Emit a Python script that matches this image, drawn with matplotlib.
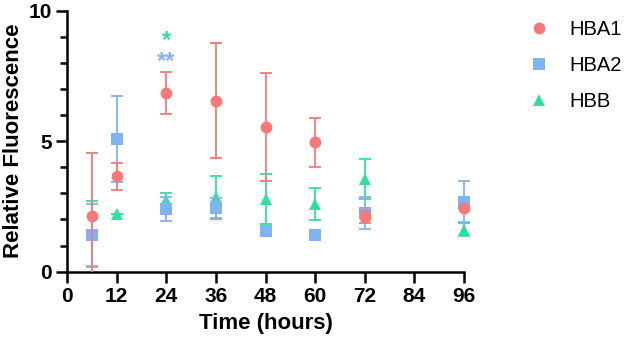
import matplotlib
matplotlib.use("Agg")
import matplotlib.pyplot as plt
from matplotlib.patches import Rectangle
import numpy as np

plt.rcParams['font.family'] = ['Liberation Sans', 'DejaVu Sans']

# Data
times = [6, 12, 24, 36, 48, 60, 72, 96]
hba1_mean = [2.15, 3.65, 6.85, 6.55, 5.55, 4.95, 2.10, 2.45]
hba1_sd   = [2.40, 0.52, 0.82, 2.20, 2.07, 0.92, 0.22, 0.0]
hba2_mean = [1.40, 5.10, 2.42, 2.45, 1.55, 1.42, 2.25, 2.68]
hba2_sd   = [1.20, 1.65, 0.46, 0.38, 0.0, 0.0, 0.60, 0.78]
hbb_mean  = [1.45, 2.22, 2.76, 2.85, 2.78, 2.60, 3.55, 1.60]
hbb_sd    = [1.27, 0.0, 0.25, 0.83, 0.95, 0.62, 0.75, 0.25]
series_names = ['HBA1', 'HBA2', 'HBB']
xticks = [0, 12, 24, 36, 48, 60, 72, 84, 96]
yticks = [0, 5, 10]

red = '#F87777'
blue = '#80B3F4'
green = '#2CE29E'

fig = plt.figure(figsize=(6.24, 3.45), dpi=100)
ax = fig.add_axes([0.1074, 0.2125, 0.7436 - 0.1074, 0.969 - 0.2125])

clip = Rectangle((-10, 0), 120, 20, transform=ax.transData)

def draw(mean, sd, color, marker, ms, label, z):
    eb = ax.errorbar(times, mean, yerr=sd, fmt='none', ecolor=color,
                     elinewidth=1.3, capsize=4.5, capthick=1.3, zorder=z, clip_on=False)
    for art in eb.lines[1] + eb.lines[2]:
        art.set_clip_on(True)
        art.set_clip_path(clip)
    ax.plot(times, mean, linestyle='none', marker=marker, color=color,
            markersize=ms, markeredgewidth=0, zorder=z + 0.5, clip_on=False, label=label)

draw(hbb_mean, hbb_sd, green, '^', 9, 'HBB', 3)
draw(hba2_mean, hba2_sd, blue, 's', 8, 'HBA2', 4)
draw(hba1_mean, hba1_sd, red, 'o', 8.5, 'HBA1', 5)

# significance marks
ax.text(24, 8.85, '*', color=green, ha='center', va='center', fontsize=17, fontweight='bold')
ax.text(24, 8.05, '**', color=blue, ha='center', va='center', fontsize=17, fontweight='bold')

ax.set_xlim(0, 96)
ax.set_ylim(0, 10)
ax.set_xticks(xticks)
ax.set_yticks(yticks)
ax.set_yticks(np.arange(0, 11, 1), minor=True)
for lab in ax.get_xticklabels() + ax.get_yticklabels():
    lab.set_fontweight('bold')
    lab.set_fontsize(15)
ax.tick_params(axis='both', which='major', length=8, width=1.8, pad=3)
ax.tick_params(axis='y', which='minor', length=5, width=1.8)
for s in ['top', 'right']:
    ax.spines[s].set_visible(False)
for s in ['left', 'bottom']:
    ax.spines[s].set_linewidth(1.8)

ax.set_xlabel('Time (hours)', fontsize=16, fontweight='bold', labelpad=5)
ax.set_ylabel('Relative Fluorescence', fontsize=16, fontweight='bold', labelpad=3)

handles, labels = ax.get_legend_handles_labels()
order = [labels.index(n) for n in series_names]
fig.legend([handles[i] for i in order], [labels[i] for i in order],
           loc='upper left', bbox_to_anchor=(0.835, 0.965), frameon=False,
           fontsize=14.5, handletextpad=1.0, labelspacing=0.85, handlelength=1.0,
           borderaxespad=0)

fig.savefig('out.png', dpi=100)
